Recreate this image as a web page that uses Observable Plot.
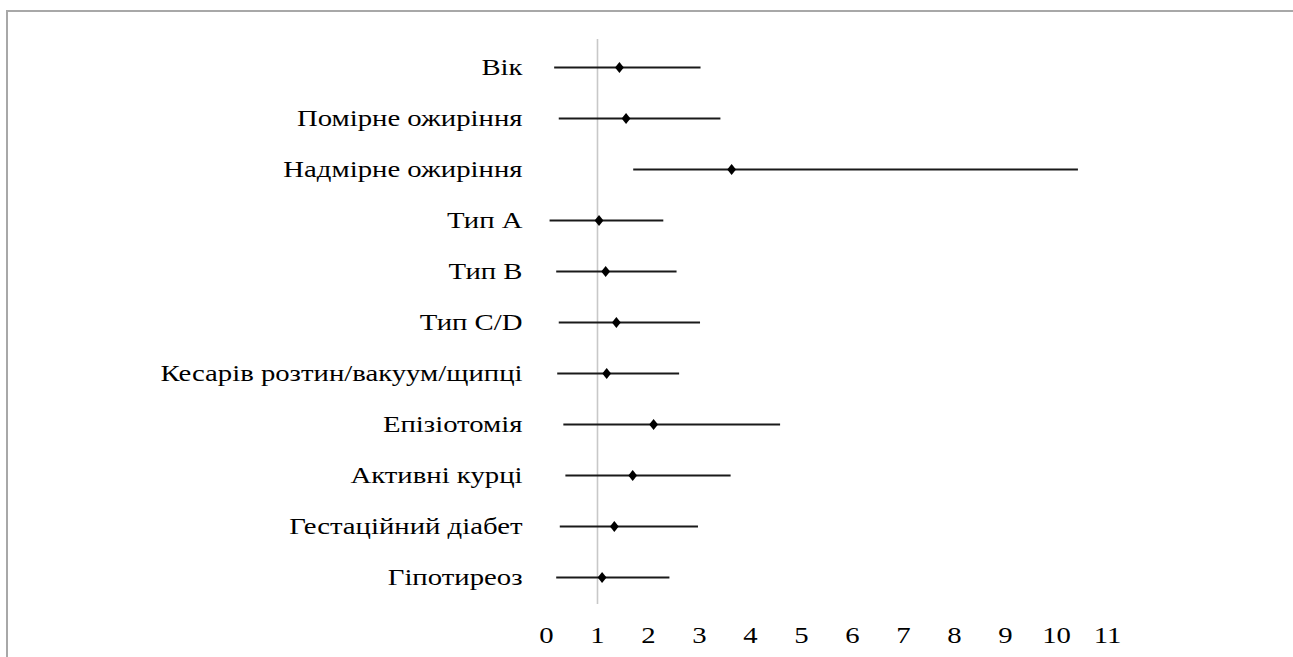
<!DOCTYPE html>
<html>
<head>
<meta charset="utf-8">
<script src="https://cdn.jsdelivr.net/npm/d3@7"></script>
<script src="https://cdn.jsdelivr.net/npm/@observablehq/plot@0.6"></script>
<style>
  html, body { margin: 0; padding: 0; background: #fff; }
  #wrap { position: relative; width: 1293px; height: 657px; overflow: hidden; }
  #frame { position: absolute; left: 6px; top: 10px; right: -4px; bottom: -4px;
           border-top: 2px solid #a8a8a8; border-left: 2px solid #a8a8a8; pointer-events: none; }
</style>
</head>
<body>
<div id="wrap"><div id="frame"></div></div>
<script>
const labels = ["Вік", "Помірне ожиріння", "Надмірне ожиріння", "Тип A", "Тип B", "Тип C/D",
  "Кесарів розтин/вакуум/щипці", "Епізіотомія", "Активні курці", "Гестаційний діабет", "Гіпотиреоз"];
const oddsRatio = [1.43, 1.56, 3.63, 1.03, 1.16, 1.37, 1.18, 2.10, 1.69, 1.33, 1.09];
const ciLow  = [0.16, 0.25, 1.71, 0.07, 0.20, 0.25, 0.22, 0.34, 0.38, 0.27, 0.20];
const ciHigh = [3.03, 3.42, 10.43, 2.30, 2.56, 3.02, 2.61, 4.59, 3.62, 2.98, 2.42];
const xTicks = [0, 1, 2, 3, 4, 5, 6, 7, 8, 9, 10, 11];
const refValue = 1;

const rows = labels.map((label, i) => ({label, or: oddsRatio[i], lo: ciLow[i], hi: ciHigh[i]}));

const diamond = {
  draw(ctx, size) {
    const r = Math.sqrt(size / Math.PI);
    const h = r * 1.25, w = r;
    ctx.moveTo(0, -h); ctx.lineTo(w, 0); ctx.lineTo(0, h); ctx.lineTo(-w, 0); ctx.closePath();
  }
};

const chart = Plot.plot({
  width: 1293,
  height: 657,
  marginLeft: 546,
  marginRight: 186,
  marginTop: 39,
  marginBottom: 53,
  style: {fontFamily: "'Liberation Serif', 'Times New Roman', serif", fontSize: "23px", color: "#000", background: "transparent"},
  x: {domain: [0, 11], axis: null},
  y: {type: "point", domain: labels, axis: null, padding: 0.5},
  marks: [
    Plot.ruleX([refValue], {stroke: "#c8c8c8", strokeWidth: 1.6}),
    Plot.ruleY(rows, {y: "label", x1: "lo", x2: "hi", stroke: "#1a1a1a", strokeWidth: 2.2}),
    Plot.dot(rows, {y: "label", x: "or", symbol: diamond, r: 4.4, fill: "#000", stroke: "none"}),
    Plot.axisY({tickSize: 0, tickPadding: 24, fontSize: 23, fill: "#000", label: null}),
    Plot.axisX(xTicks, {tickSize: 0, tickPadding: 22, fontSize: 23, fill: "#000", label: null})
  ]
});
// the reference's lettering is horizontally widened; stretch each tick label around its anchor
chart.querySelectorAll('g[aria-label$="tick label"] text').forEach(t => {
  const x = +(t.getAttribute("x") || 0);
  const tr = t.getAttribute("transform") || "";
  t.setAttribute("transform", `${tr} translate(${x},0) scale(1.25,1) translate(${-x},0)`);
});
document.getElementById("wrap").prepend(chart);
</script>
</body>
</html>
